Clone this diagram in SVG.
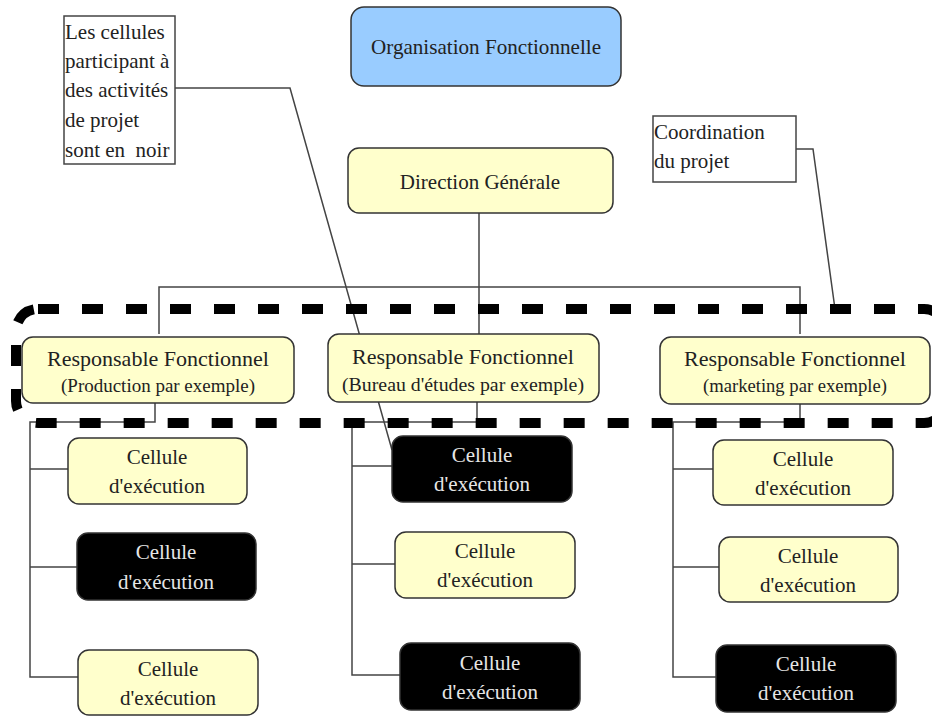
<svg xmlns="http://www.w3.org/2000/svg" width="932" height="716" viewBox="0 0 932 716">
<style>
  .box{fill:#FFFFCC;stroke:#333;stroke-width:1.5}
  .blk{fill:#000;stroke:#333;stroke-width:1.5}
  .blue{fill:#99CCFF;stroke:#333;stroke-width:1.5}
  .note{fill:#fff;stroke:#444;stroke-width:1.5}
  .t{font-family:"Liberation Serif","Times New Roman",serif;font-size:21px;fill:#222;text-anchor:middle}
  .s{font-family:"Liberation Serif","Times New Roman",serif;font-size:18.5px;fill:#222;text-anchor:middle}
  .w{font-family:"Liberation Serif","Times New Roman",serif;font-size:21px;fill:#e6e6e6;text-anchor:middle}
  .n{font-family:"Liberation Serif","Times New Roman",serif;font-size:21px;fill:#222;white-space:pre}
  .ln{fill:none;stroke:#444;stroke-width:1.5}
  .dash{fill:none;stroke:#000;stroke-width:10;stroke-dasharray:21 23}
</style>
<rect width="932" height="716" fill="#fff"/>

<g id="connectors">
  <path class="ln" d="M479 213V334M159 334V287H800V334"/>
  <path class="ln" d="M155 403V422H30V677H78M30 469H68M30 567H77"/>
  <path class="ln" d="M477 402V422H352V675H400M352 466H392M352 564H395"/>
  <path class="ln" d="M800 404V422H673V677H716M673 469H713M673 567H719"/>
  <path class="ln" d="M175 88H290L392 450"/>
  <path class="ln" d="M796 149H813L835 309"/>
</g>

<g id="projet-cadre">
  <rect class="dash" x="16" y="309" width="930" height="114" rx="22"/>
</g>

<g id="organisation">
  <rect class="blue" x="351" y="7" width="270" height="79" rx="13"/>
  <text class="t" x="486" y="54" textLength="230" lengthAdjust="spacingAndGlyphs">Organisation Fonctionnelle</text>
</g>

<g id="direction">
  <rect class="box" x="348" y="148" width="265" height="65" rx="11"/>
  <text class="t" x="480" y="189">Direction Générale</text>
</g>

<g id="note-cellules">
  <rect class="note" x="64" y="16" width="111" height="148"/>
  <text class="n" x="65" y="39">Les cellules</text>
  <text class="n" x="65" y="68">participant à</text>
  <text class="n" x="65" y="97">des activités</text>
  <text class="n" x="65" y="127">de projet</text>
  <text class="n" x="65" y="157" xml:space="preserve">sont en  noir</text>
</g>

<g id="note-coordination">
  <rect class="note" x="653" y="116" width="143" height="66"/>
  <text class="n" x="654" y="139">Coordination</text>
  <text class="n" x="654" y="168">du projet</text>
</g>

<g id="resp-production">
  <rect class="box" x="22" y="337" width="272" height="66" rx="11"/>
  <text class="t" x="158" y="366" textLength="222" lengthAdjust="spacingAndGlyphs">Responsable Fonctionnel</text>
  <text class="s" x="158" y="392" textLength="194" lengthAdjust="spacingAndGlyphs">(Production par exemple)</text>
</g>
<g id="resp-bureau">
  <rect class="box" x="328" y="334" width="271" height="68" rx="11"/>
  <text class="t" x="463" y="364" textLength="222" lengthAdjust="spacingAndGlyphs">Responsable Fonctionnel</text>
  <text class="s" x="463" y="391" textLength="242" lengthAdjust="spacingAndGlyphs">(Bureau d'études par exemple)</text>
</g>
<g id="resp-marketing">
  <rect class="box" x="660" y="337" width="270" height="67" rx="11"/>
  <text class="t" x="795" y="366" textLength="222" lengthAdjust="spacingAndGlyphs">Responsable Fonctionnel</text>
  <text class="s" x="795" y="392" textLength="184" lengthAdjust="spacingAndGlyphs">(marketing par exemple)</text>
</g>

<g id="cell-p1">
  <rect class="box" x="68" y="438" width="179" height="66" rx="11"/>
  <text class="t" x="157" y="464">Cellule</text>
  <text class="t" x="157" y="493">d'exécution</text>
</g>
<g id="cell-p2">
  <rect class="blk" x="77" y="533" width="179" height="67" rx="11"/>
  <text class="w" x="166" y="559">Cellule</text>
  <text class="w" x="166" y="589">d'exécution</text>
</g>
<g id="cell-p3">
  <rect class="box" x="78" y="650" width="180" height="65" rx="11"/>
  <text class="t" x="168" y="676">Cellule</text>
  <text class="t" x="168" y="705">d'exécution</text>
</g>

<g id="cell-b1">
  <rect class="blk" x="392" y="436" width="180" height="66" rx="11"/>
  <text class="w" x="482" y="462">Cellule</text>
  <text class="w" x="482" y="491">d'exécution</text>
</g>
<g id="cell-b2">
  <rect class="box" x="395" y="532" width="180" height="66" rx="11"/>
  <text class="t" x="485" y="558">Cellule</text>
  <text class="t" x="485" y="587">d'exécution</text>
</g>
<g id="cell-b3">
  <rect class="blk" x="400" y="643" width="180" height="67" rx="11"/>
  <text class="w" x="490" y="670">Cellule</text>
  <text class="w" x="490" y="699">d'exécution</text>
</g>

<g id="cell-m1">
  <rect class="box" x="713" y="440" width="180" height="65" rx="11"/>
  <text class="t" x="803" y="466">Cellule</text>
  <text class="t" x="803" y="495">d'exécution</text>
</g>
<g id="cell-m2">
  <rect class="box" x="719" y="537" width="179" height="65" rx="11"/>
  <text class="t" x="808" y="563">Cellule</text>
  <text class="t" x="808" y="592">d'exécution</text>
</g>
<g id="cell-m3">
  <rect class="blk" x="716" y="645" width="180" height="67" rx="11"/>
  <text class="w" x="806" y="671">Cellule</text>
  <text class="w" x="806" y="700">d'exécution</text>
</g>
</svg>
